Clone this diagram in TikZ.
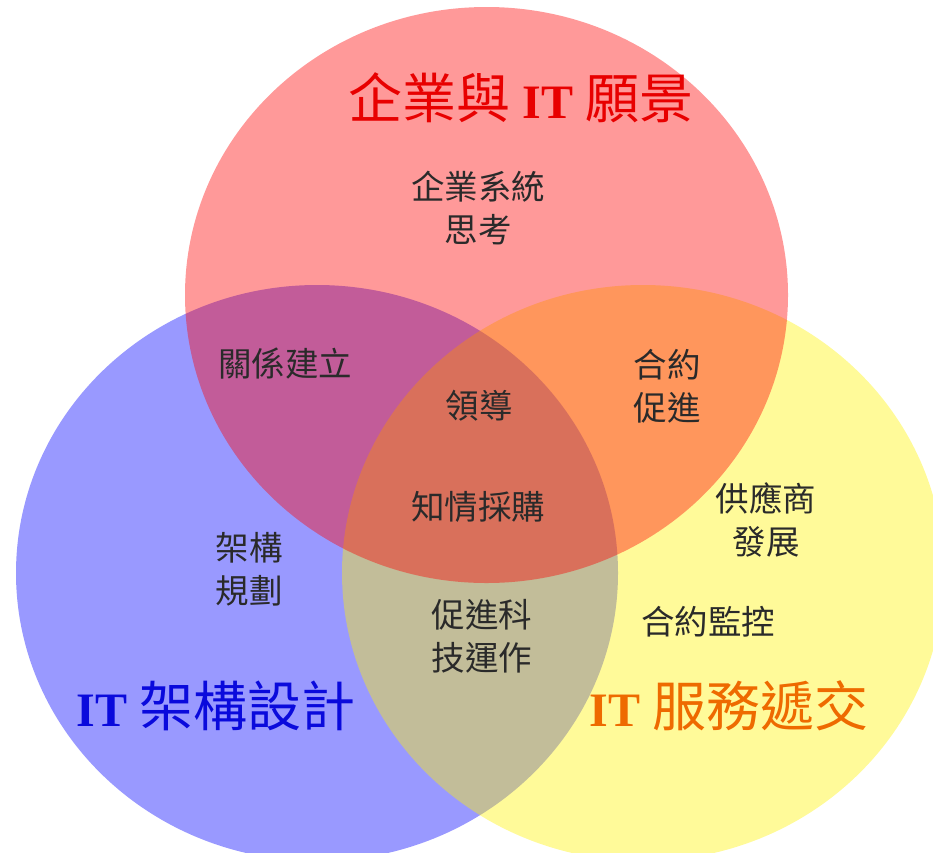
\documentclass[tikz,border=0pt]{standalone}
\usepackage{fontspec}
\newfontfamily\cjkfont{Noto Sans CJK TC}
\newfontfamily\serfont{Liberation Serif}
\definecolor{titlered}{HTML}{E80000}
\definecolor{titleblue}{HTML}{0A0ADC}
\definecolor{titleorange}{HTML}{EE6A00}
\definecolor{labelgray}{HTML}{2A2A2A}
\tikzset{
  venn/.style={fill opacity=0.4, draw=none},
  lbl/.style={font=\cjkfont\fontsize{33.5}{43}\selectfont, align=center, text=labelgray, inner sep=0pt},
  ttl/.style={font=\cjkfont\fontsize{54}{60}\selectfont, inner sep=0pt},
}
\newcommand{\ITword}{{\serfont\bfseries\fontsize{48}{60}\selectfont IT}}
\begin{document}
\begin{tikzpicture}[x=1pt,y=-1pt]
\useasboundingbox (0,0) rectangle (933,852);
\clip (0,0) rectangle (933,852);
\fill[venn, fill=blue]   (317,573) ellipse [x radius=301, y radius=288];
\fill[venn, fill=yellow] (643,573) ellipse [x radius=301, y radius=288];
\fill[venn, fill=red]    (486.5,295) ellipse [x radius=301.5, y radius=288];

\node[ttl, text=titlered]    (tred)    at (521,98)  {企業與\hspace{12pt}\ITword\hspace{12pt}願景};
\node[ttl, text=titleblue]   (tblue)   at (216,706) {\ITword\hspace{12pt}架構設計};
\node[ttl, text=titleorange] (torange) at (729,706) {\ITword\hspace{12pt}服務遞交};

\node[lbl] (a1) at (478,208) {企業系統\\思考};
\node[lbl] (a2) at (285,364) {關係建立};
\node[lbl] (a3) at (479,406) {領導};
\node[lbl] (a4) at (478,507) {知情採購};
\node[lbl] (a5) at (667,386) {合約\\促進};
\node[lbl] (a6) at (766,520) {供應商\\發展};
\node[lbl] (a7) at (708,622) {合約監控};
\node[lbl] (a8) at (249,569) {架構\\規劃};
\node[lbl] (a9) at (482,636) {促進科\\技運作};
\end{tikzpicture}
\end{document}
